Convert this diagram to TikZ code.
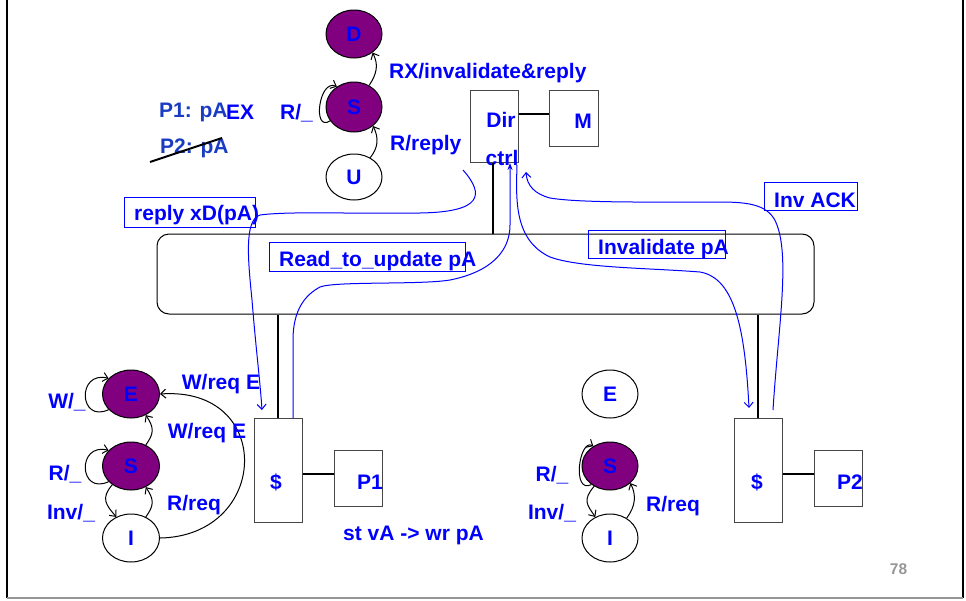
\documentclass[tikz,border=0pt]{standalone}
\usepackage{fontspec}
\setmainfont{Liberation Sans}
\usepackage{xcolor}
\definecolor{cohblue}{RGB}{0, 0, 255}
\definecolor{cohnavy}{RGB}{25, 60, 195}
\definecolor{cohpurple}{RGB}{128, 0, 128}
\definecolor{cohgray}{RGB}{150, 150, 150}
\definecolor{cohedge}{RGB}{70, 70, 70}
\usetikzlibrary{arrows.meta, shapes.geometric}

\tikzset{
  estado/.style={ellipse, draw=black, line width=1pt, minimum width=56pt,
    minimum height=48pt, inner sep=0pt, text=cohblue,
    font=\fontsize{21}{25}\selectfont\bfseries},
  lleno/.style={fill=cohpurple},
  caja/.style={rectangle, draw=cohedge, line width=1pt, inner sep=0pt},
  etiq/.style={text=cohblue, font=\fontsize{21}{25}\selectfont\bfseries,
    inner sep=0pt},
  marco/.style={draw=cohblue, line width=0.8pt},
  enlace/.style={line width=1.6pt},
  flecha/.style={->, line width=1pt},
  traza/.style={line width=1pt, cohblue}
}

\begin{document}
\begin{tikzpicture}[x=1pt, y=-1pt, >={Straight Barb[length=5pt, width=9pt]}]
\useasboundingbox (0,0) rectangle (966,600);

% === Marco de la diapositiva ===
\draw[line width=2.3pt] (7,-5) -- (7,598);
\draw[line width=2.3pt] (963,-5) -- (963,598);
\draw[line width=2pt, cohgray] (7,598) -- (963,598);

% === Directorio, memoria y bus ===
\node[caja, minimum width=48pt, minimum height=72pt] (dir) at (494,126) {};
\node[caja, minimum width=49pt, minimum height=56pt] (mem) at (573.5,118) {};
\node[etiq] (dirlbl) at (501,120) {Dir};
\node[etiq] (ctrllbl) at (502,158) {ctrl};
\node[etiq] (memlbl) at (583,121) {M};
\draw[enlace] ([yshift=12pt]dir.east) -- ([yshift=4pt]mem.west);

\node[draw, line width=1pt, rounded corners=12pt, minimum width=657pt,
  minimum height=80pt, inner sep=0pt] (bus) at (485.5,274) {};
\draw[enlace] ([xshift=-1pt]dir.south) -- ([xshift=-1pt]dir.south |- bus.north);

% === Caches y procesadores ===
\node[caja, minimum width=48pt, minimum height=104pt] (cacheA) at (278,470) {};
\node[caja, minimum width=48pt, minimum height=56pt] (procA) at (358,478) {};
\node[caja, minimum width=48pt, minimum height=104pt] (cacheB) at (758,470) {};
\node[caja, minimum width=48pt, minimum height=56pt] (procB) at (838,478) {};
\node[etiq] (cacheAlbl) at (276,482) {\$};
\node[etiq] (procAlbl) at (370,482) {P1};
\node[etiq] (cacheBlbl) at (757,482) {\$};
\node[etiq] (procBlbl) at (850,482) {P2};
\draw[enlace] (cacheA.north |- bus.south) -- (cacheA.north);
\draw[enlace] (cacheB.north |- bus.south) -- (cacheB.north);
\draw[enlace] ([yshift=-4pt]cacheA.east) -- ([yshift=4pt]procA.west);
\draw[enlace] ([yshift=-4pt]cacheB.east) -- ([yshift=4pt]procB.west);

\node[etiq, anchor=west] (stlbl) at (343,535) {st vA -> wr pA};

% === Estados del directorio ===
\node[estado, lleno] (dD) at (354,34) {D};
\node[estado, lleno, minimum height=50pt] (dS) at (354,107) {S};
\node[estado, minimum height=46pt] (dU) at (354,177) {U};

\draw[flecha] (dU.50) .. controls +(8,-10) and +(6,12) .. (dS.315);
\draw[flecha] (dS.55) .. controls +(8,-12) and +(6,12) .. (dD.315);
\draw[flecha] (dS.210) .. controls +(-18,12) and +(-18,-8) .. (dS.130);

\node[etiq, anchor=west] (rxlbl) at (389,73) {RX/invalidate\&reply};
\node[etiq, anchor=west] (rrlbl) at (390,145) {R/reply};
\node[etiq, anchor=west] (rdlbl) at (280,113) {R/\_};

% Estado de los procesadores
\node[etiq, anchor=west, text=cohnavy] (p1lbl) at (159,112) {P1: pA};
\node[etiq, anchor=west] (exlbl) at (226,112) {EX};
\node[etiq, anchor=west, text=cohnavy] (p2lbl) at (160,148) {P2: pA};
\draw[line width=2pt] (150,162) -- (222,138);

% === Maquina de estados de P1 ===
\node[estado, lleno, minimum width=57pt] (aE) at (131,394) {E};
\node[estado, lleno, minimum width=57pt] (aS) at (131,466) {S};
\node[estado, minimum width=57pt] (aI) at (131,538) {I};

\draw[flecha] (aE.215) .. controls +(-30,14) and +(-32,-8) .. (aE.145);
\draw[flecha] (aS.215) .. controls +(-30,14) and +(-32,-8) .. (aS.145);
\draw[flecha] (aS.225) .. controls +(-12,14) and +(-10,-12) .. (aI.125);
\draw[flecha] (aI.55) .. controls +(9,-12) and +(8,12) .. (aS.305);
\draw[flecha] (aS.55) .. controls +(9,-12) and +(8,12) .. (aE.305);
\draw[flecha] (aI.east) .. controls (270,536) and (275,386) .. (aE.east);

\node[etiq] (wAlbl) at (67,402) {W/\_};
\node[etiq] (rAlbl) at (65,474) {R/\_};
\node[etiq] (iAlbl) at (71,513) {Inv/\_};
\node[etiq] (weAlbl) at (221,384) {W/req E};
\node[etiq] (wsAlbl) at (207,433) {W/req E};
\node[etiq] (rqAlbl) at (194,505) {R/req};

% === Maquina de estados de P2 ===
\node[estado] (bE) at (610,394) {E};
\node[estado, lleno] (bS) at (610,466) {S};
\node[estado] (bI) at (610,538) {I};

\draw[flecha] (bS.225) .. controls +(-20,10) and +(-14,-8) .. (bS.130);
\draw[flecha] (bS.232) .. controls +(-12,14) and +(-8,-12) .. (bI.125);
\draw[flecha] (bI.50) .. controls +(9,-12) and +(6,12) .. (bS.320);

\node[etiq] (rBlbl) at (552,475) {R/\_};
\node[etiq] (iBlbl) at (552,513) {Inv/\_};
\node[etiq] (rqBlbl) at (673,506) {R/req};

% === Mensajes de coherencia ===
\coordinate (replyIni) at (463,170);
\coordinate (replyFin) at (262,410);
\coordinate (readIni) at (293,418);
\coordinate (readFin) at (510,163);
\coordinate (invIni) at (517,165);
\coordinate (invFin) at (749,408);
\coordinate (ackIni) at (773,410);
\coordinate (ackFin) at (526,172);

\draw[traza, ->] (replyIni) .. controls (485,195) and (482,212) .. (420,213)
  .. controls (350,214) and (290,211) .. (260,215)
  .. controls (244,220) and (248,260) .. (252,300)
  .. controls (256,350) and (260,380) .. (replyFin);
\draw[traza, -{Stealth[length=7pt, width=5pt]}] (readIni) -- (293,340)
  .. controls (293,310) and (305,295) .. (320,287)
  .. controls (335,281) and (420,285) .. (450,280)
  .. controls (490,272) and (510,252) .. (510,225) -- (readFin);
\draw[traza, ->] (invIni) .. controls (516,200) and (514,240) .. (550,257)
  .. controls (580,268) and (650,268) .. (700,272)
  .. controls (735,278) and (745,330) .. (invFin);
\draw[traza, ->] (ackIni) .. controls (778,330) and (790,260) .. (777,225)
  .. controls (770,205) and (750,202) .. (720,202)
  .. controls (650,202) and (580,203) .. (550,198)
  .. controls (535,194) and (527,186) .. (ackFin);

% Rotulos de los mensajes
\draw[marco] (124,197) rectangle (255,227);
\node[etiq, anchor=west] (replylbl) at (134,215) {reply xD(pA)};
\draw[marco] (269,242) rectangle (465,271);
\node[etiq, anchor=west] (readlbl) at (279,261) {Read\_to\_update pA};
\draw[marco] (588,230) rectangle (725,258);
\node[etiq, anchor=west] (invlbl) at (598,249) {Invalidate pA};
\draw[marco] (764,182) rectangle (857,210);
\node[etiq, anchor=west] (acklbl) at (774,200) {Inv ACK};

% Numero de pagina
\node[text=cohgray, font=\fontsize{15.5}{18}\selectfont\bfseries] (pag) at (898.5,569) {78};

\end{tikzpicture}
\end{document}
